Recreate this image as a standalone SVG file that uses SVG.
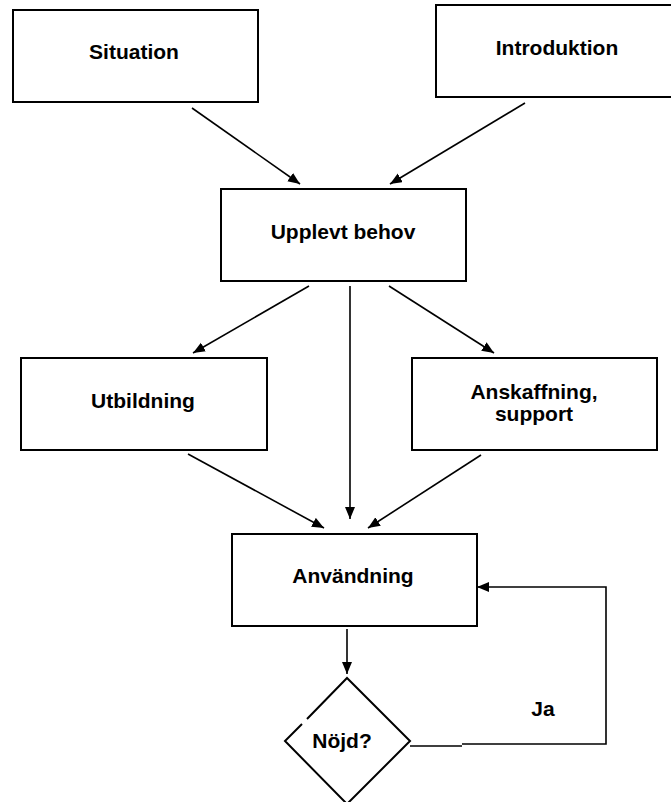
<svg xmlns="http://www.w3.org/2000/svg" width="671" height="802" viewBox="0 0 671 802">
<style>
.box{fill:#fff;stroke:#000;stroke-width:2}
.lbl{font-family:"Liberation Sans",Arial,sans-serif;font-weight:bold;font-size:21px;fill:#000;text-anchor:middle}
.con{fill:none;stroke:#000;stroke-width:1.6}
</style>
<defs>
<marker id="arr" markerUnits="userSpaceOnUse" markerWidth="13" markerHeight="11" refX="12" refY="5" orient="auto">
<path d="M0,0 L12,5 L0,10 z" fill="#000"/>
</marker>
</defs>
<rect width="671" height="802" fill="#fff"/>
<g id="situation"><rect class="box" x="13" y="10" width="245" height="92"/><text class="lbl" x="134" y="59">Situation</text></g>
<g id="introduktion"><rect class="box" x="436" y="5" width="245" height="92"/><text class="lbl" x="557" y="55">Introduktion</text></g>
<g id="upplevt"><rect class="box" x="221" y="189" width="245" height="92"/><text class="lbl" x="343" y="239">Upplevt behov</text></g>
<g id="utbildning"><rect class="box" x="21" y="358" width="246" height="92"/><text class="lbl" x="143" y="408">Utbildning</text></g>
<g id="anskaffning"><rect class="box" x="412" y="358" width="245" height="92"/><text class="lbl" x="534" y="399">Anskaffning,</text><text class="lbl" x="534" y="421">support</text></g>
<g id="anvandning"><rect class="box" x="232" y="534" width="245" height="92"/><text class="lbl" x="353" y="583">Användning</text></g>
<g id="nojd"><path d="M347,678 L285,741 L347,804 L410,741 Z" fill="#fff" stroke="none"/><path d="M302,724 L285,741 L347,804 L410,741 L347,678 L307,719" fill="none" stroke="#000" stroke-width="2"/><text class="lbl" x="342" y="748">Nöjd?</text></g>
<g id="ja"><text class="lbl" x="543" y="716">Ja</text></g>
<g id="connectors">
<line class="con" x1="192" y1="108" x2="300" y2="184" marker-end="url(#arr)"/>
<line class="con" x1="525" y1="103" x2="390" y2="184" marker-end="url(#arr)"/>
<line class="con" x1="309" y1="286" x2="193" y2="353" marker-end="url(#arr)"/>
<line class="con" x1="350" y1="286" x2="350" y2="519" marker-end="url(#arr)"/>
<line class="con" x1="389" y1="286" x2="494" y2="353" marker-end="url(#arr)"/>
<line class="con" x1="188" y1="454" x2="324" y2="528" marker-end="url(#arr)"/>
<line class="con" x1="481" y1="455" x2="368" y2="528" marker-end="url(#arr)"/>
<line class="con" x1="347" y1="629" x2="347" y2="674" marker-end="url(#arr)"/>
<path class="con" d="M410,746 L462,746 M462,744 L606,744 L606,587 L477,587" marker-end="url(#arr)"/>
</g>
</svg>
